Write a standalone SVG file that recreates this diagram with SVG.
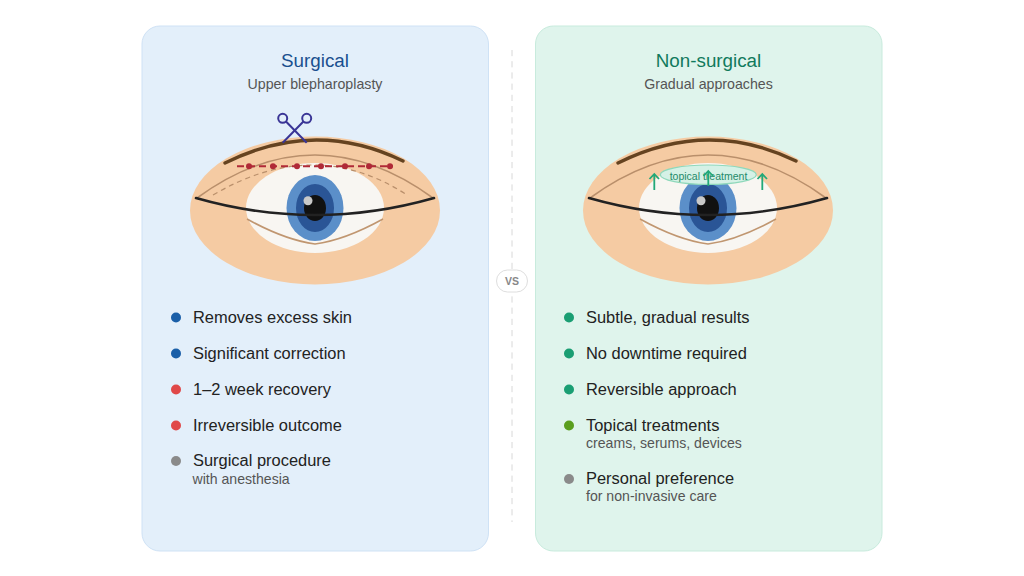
<svg xmlns="http://www.w3.org/2000/svg" width="1024" height="576" viewBox="0 0 1024 576">
<defs>
<style>
text{font-family:"Liberation Sans",Arial,sans-serif}
.title{font-size:18.800px;text-anchor:middle}
.sub{font-size:14.200px;text-anchor:middle;fill:#555}
.item{font-size:16.450px;fill:#222}
.note{font-size:14.100px;fill:#555}
.skin{fill:#f5cba3}.white{fill:#f8f6f2}
.i1{fill:#5b8fc9}.i2{fill:#2a5596}.i3{fill:#111}.hl{fill:#c9c9c9}
.lid{fill:none;stroke:#222;stroke-width:2.6;stroke-linecap:round}
.crease{fill:none;stroke:#b98f6b;stroke-width:1.6}
.brow{fill:none;stroke:#654320;stroke-width:3.4;stroke-linecap:round}
.low{fill:none;stroke:#c09670;stroke-width:1.6}
.arrow{fill:none;stroke:#22a878;stroke-width:1.8}
.blue{fill:#1a5fa8}.red{fill:#e04848}.grey{fill:#8a8a8a}.green{fill:#1a9e73}.olive{fill:#5a9e1e}
.cut{fill:#b02a37}
</style>
<g id="eye">
<ellipse class="skin" cx="0" cy="210.500" rx="125" ry="74"/>
<ellipse class="white" cx="0" cy="208" rx="69" ry="45"/>
<ellipse class="i1" cx="0" cy="208" rx="28.500" ry="33"/>
<ellipse class="i2" cx="0" cy="208" rx="19" ry="24"/>
<ellipse class="i3" cx="0" cy="208" rx="11" ry="13"/>
<circle class="hl" cx="-7" cy="200.700" r="4.500"/>
<path class="crease" d="M-118 198Q0 112 118 198"/>
<path class="lid" d="M-119 198Q0 232 119 198"/>
<path class="low" d="M-68 219Q-30 240 0 244Q30 240 68 219"/>
<path class="brow" d="M-90 163Q0 118 88 161"/>
</g>
</defs>
<rect width="1024" height="576" fill="#fff"/>
<g id="surgical-panel">
<rect x="142" y="26" width="346.500" height="525" rx="18" fill="#e3effa" stroke="#cfe2f5"/>
<text class="title" x="315" y="67" fill="#1a4f8f">Surgical</text>
<text class="sub" x="315" y="89">Upper blepharoplasty</text>
</g>
<g id="surgical-eye">
<use href="#eye" x="315"/>
<path d="M213 195Q315 135 407 195" fill="none" stroke="#b98f6b" stroke-width="1.200" stroke-dasharray="5 4"/>
<path d="M237 166.300H393" fill="none" stroke="#b02a37" stroke-width="2" stroke-dasharray="7 4"/>
<g class="cut"><circle cx="249" cy="166.300" r="3"/><circle cx="273" cy="166.300" r="3"/><circle cx="297" cy="166.300" r="3"/><circle cx="321" cy="166.300" r="3"/><circle cx="345" cy="166.300" r="3"/><circle cx="369" cy="166.300" r="3"/><circle cx="390" cy="166.300" r="3"/></g>
<g fill="none" stroke="#3a3596" stroke-width="2"><circle cx="282.700" cy="118.300" r="4.500"/><circle cx="306.700" cy="118.300" r="4.500"/><path d="M286 121.500L306.700 142.700M303.400 121.500L282.700 142.700"/></g>
</g>
<g id="surgical-list">
<circle class="blue" cx="176" cy="317.500" r="5"/><text class="item" x="193" y="323">Removes excess skin</text>
<circle class="blue" cx="176" cy="353.500" r="5"/><text class="item" x="193" y="359">Significant correction</text>
<circle class="red" cx="176" cy="389.500" r="5"/><text class="item" x="193" y="395">1–2 week recovery</text>
<circle class="red" cx="176" cy="425.500" r="5"/><text class="item" x="193" y="431">Irreversible outcome</text>
<circle class="grey" cx="176" cy="461" r="5"/><text class="item" x="193" y="466">Surgical procedure</text>
<text class="note" x="192.500" y="484">with anesthesia</text>
</g>
<g id="divider">
<path d="M512 50V522" stroke="#d8d8d8" stroke-width="1" stroke-dasharray="6.200 5" fill="none"/>
<rect x="496.500" y="270" width="31" height="22" rx="11" fill="#fff" stroke="#dedede"/>
<text x="512" y="285" text-anchor="middle" fill="#888" font-weight="bold" style="font-size:10.500px">VS</text>
</g>
<g id="nonsurgical-panel">
<rect x="535.500" y="26" width="346.500" height="525" rx="18" fill="#dff4ec" stroke="#c8ebdd"/>
<text class="title" x="708.500" y="67" fill="#117a5c">Non-surgical</text>
<text class="sub" x="708.500" y="89">Gradual approaches</text>
</g>
<g id="nonsurgical-eye">
<use href="#eye" x="708"/>
<ellipse cx="708.300" cy="174.700" rx="48" ry="9.700" fill="#d5f1e6" stroke="#8fd8bb" stroke-width="1.200"/>
<text x="708.500" y="179.500" font-size="10.500" text-anchor="middle" fill="#1f8a6a">topical treatment</text>
<g class="arrow"><path d="M654.300 190V174M649.500 179L654.300 174L659 179"/><path d="M708.300 186V171M703.500 176L708.300 171L713 176"/><path d="M762.300 190V174M757.500 179L762.300 174L767 179"/></g>
</g>
<g id="nonsurgical-list">
<circle class="green" cx="569" cy="317.500" r="5"/><text class="item" x="586" y="323">Subtle, gradual results</text>
<circle class="green" cx="569" cy="353.500" r="5"/><text class="item" x="586" y="359">No downtime required</text>
<circle class="green" cx="569" cy="389.500" r="5"/><text class="item" x="586" y="395">Reversible approach</text>
<circle class="olive" cx="569" cy="425.500" r="5"/><text class="item" x="586" y="431">Topical treatments</text>
<text class="note" x="586" y="448">creams, serums, devices</text>
<circle class="grey" cx="569" cy="479" r="5"/><text class="item" x="586" y="484">Personal preference</text>
<text class="note" x="586" y="501">for non-invasive care</text>
</g>
</svg>
